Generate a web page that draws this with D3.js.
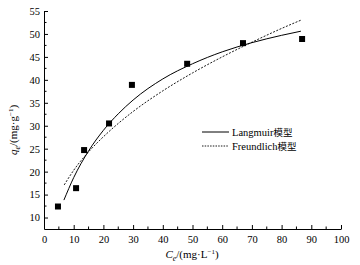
<!DOCTYPE html>
<html>
<head>
<meta charset="utf-8">
<script src="https://cdn.jsdelivr.net/npm/d3@7"></script>
<style>
  body { margin: 0; background: #fff; }
  svg text { font-family: "Liberation Serif", Tinos, "DejaVu Serif", serif !important; fill: #000; }
  svg text tspan.cjk { font-family: "Noto Sans CJK SC", sans-serif !important; }
</style>
</head>
<body>
<div id="general"></div>
<script>
const w = 360, h = 265;

// measured data (Ce, qe)
const ce = [4.7, 10.8, 13.5, 21.9, 29.6, 48.2, 67.0, 86.9];
const qe = [12.4, 16.4, 24.7, 30.5, 38.9, 43.5, 48.0, 48.9];

// fitted curves
const langC = [6.7, 10, 15, 20, 25, 30, 40, 50, 60, 70, 80, 86.5];
const langQ = [13.8, 18.7, 24.5, 29.0, 32.6, 35.6, 40.2, 43.5, 46.1, 48.1, 49.7, 50.6];
const freuC = [6.8, 10, 15, 20, 25, 30, 40, 50, 60, 70, 80, 86.5];
const freuQ = [17.1, 20.3, 24.3, 27.6, 30.5, 33.1, 37.6, 41.5, 45.0, 48.2, 51.2, 53.0];

const xTicks = [0, 10, 20, 30, 40, 50, 60, 70, 80, 90, 100];
const yTicks = [10, 15, 20, 25, 30, 35, 40, 45, 50, 55];

const svg = d3.select("#general").append("svg").attr("width", w).attr("height", h);

const x = d3.scaleLinear().domain([0, 100]).range([44, 341]);
const y = d3.scaleLinear().domain([7.5, 55]).range([229, 11]);

// axes
const xAxis = svg.append("g").attr("transform", `translate(0,${y(7.5)})`)
  .call(d3.axisBottom(x).tickValues(xTicks).tickSizeInner(-4).tickSizeOuter(0).tickPadding(7));
xAxis.append("g").selectAll("line")
  .data(d3.range(5, 100, 10))
  .join("line")
    .attr("x1", d => x(d)).attr("x2", d => x(d))
    .attr("y1", 0).attr("y2", -2.5)
    .attr("stroke", "#000");

const yAxis = svg.append("g").attr("transform", `translate(${x(0)},0)`)
  .call(d3.axisLeft(y).tickValues(yTicks).tickSizeInner(-4).tickSizeOuter(0).tickPadding(7));
yAxis.append("g").selectAll("line")
  .data(d3.range(12.5, 55, 5))
  .join("line")
    .attr("y1", d => y(d)).attr("y2", d => y(d))
    .attr("x1", 0).attr("x2", 2.5)
    .attr("stroke", "#000");

svg.selectAll(".domain").attr("stroke", "#000");
svg.selectAll(".tick line").attr("stroke", "#000");
svg.selectAll(".tick text").attr("font-size", 10.5);
yAxis.selectAll(".tick text").attr("dx", 3);

// curves
const line = d3.line().x(d => x(d[0])).y(d => y(d[1])).curve(d3.curveMonotoneX);
svg.append("path")
  .attr("d", line(d3.zip(langC, langQ)))
  .attr("fill", "none").attr("stroke", "#000").attr("stroke-width", 1);
svg.append("path")
  .attr("d", line(d3.zip(freuC, freuQ)))
  .attr("fill", "none").attr("stroke", "#000").attr("stroke-width", 0.9)
  .attr("stroke-dasharray", "2,1.5");

// points
const s = 6;
svg.append("g").selectAll("rect")
  .data(d3.zip(ce, qe))
  .join("rect")
    .attr("x", d => x(d[0]) - s / 2)
    .attr("y", d => y(d[1]) - s / 2)
    .attr("width", s).attr("height", s)
    .attr("fill", "#000");

// legend
const lg = svg.append("g").attr("font-size", 10.5);
lg.append("line").attr("x1", 202).attr("x2", 229).attr("y1", 132).attr("y2", 132)
  .attr("stroke", "#000").attr("stroke-width", 1);
lg.append("text").attr("x", 232).attr("y", 136).text("Langmuir").append("tspan")
  .attr("class", "cjk").attr("font-size", 9.5).text("模型");
lg.append("line").attr("x1", 202).attr("x2", 229).attr("y1", 146).attr("y2", 146)
  .attr("stroke", "#000").attr("stroke-width", 0.9).attr("stroke-dasharray", "1.5,1.2");
lg.append("text").attr("x", 232).attr("y", 150).text("Freundlich").append("tspan")
  .attr("class", "cjk").attr("font-size", 9.5).text("模型");

// axis titles
const xt = svg.append("text").attr("x", 192).attr("y", 258).attr("text-anchor", "middle").attr("font-size", 11);
xt.append("tspan").attr("font-style", "italic").text("C");
xt.append("tspan").attr("font-style", "italic").attr("font-size", 8).attr("dy", 2.5).text("e");
xt.append("tspan").attr("dy", -2.5).text("/(mg·L");
xt.append("tspan").attr("font-size", 7).attr("dy", -4).text("−1");
xt.append("tspan").attr("dy", 4).text(")");

const yt = svg.append("text").attr("transform", `translate(17,130) rotate(-90)`)
  .attr("text-anchor", "middle").attr("font-size", 11);
yt.append("tspan").attr("font-style", "italic").text("q");
yt.append("tspan").attr("font-style", "italic").attr("font-size", 8).attr("dy", 2.5).text("e");
yt.append("tspan").attr("dy", -2.5).text("/(mg·g");
yt.append("tspan").attr("font-size", 7).attr("dy", -4).text("−1");
yt.append("tspan").attr("dy", 4).text(")");
</script>
</body>
</html>
